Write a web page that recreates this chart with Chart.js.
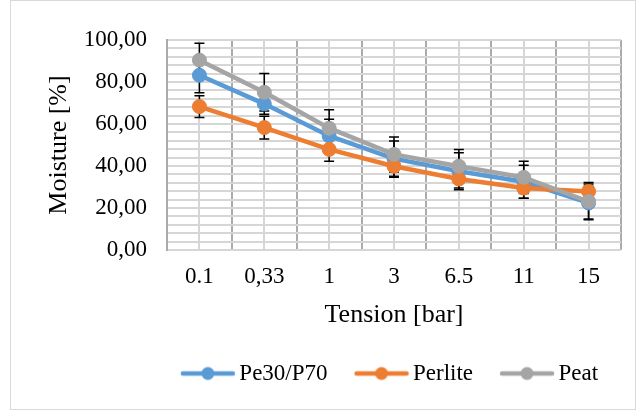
<!DOCTYPE html>
<html><head><meta charset="utf-8">
<script src="https://cdn.jsdelivr.net/npm/chart.js@4/dist/chart.umd.min.js"></script>
<style>html,body{margin:0;padding:0;background:#fff;} #wrap{width:641px;height:413px;position:relative;}</style>
</head><body><div id="wrap"><canvas id="c" width="641" height="413"></canvas></div>
<script>
const categories = ['0.1', '0,33', '1', '3', '6.5', '11', '15'];
const seriesNames = ['Pe30/P70', 'Perlite', 'Peat'];
const pe30Values = [83.2, 69.6, 54.3, 43.5, 37.5, 32.5, 22.4];
const pe30Errors = [8.3, 5.0, 8.0, 8.4, 8.8, 7.9, 8.0];
const perliteValues = [68.3, 58.3, 47.9, 39.9, 33.8, 29.5, 27.9];
const perliteErrors = [5.2, 5.4, 5.6, 5.3, 4.3, 4.8, 4.3];
const peatValues = [90.4, 75.1, 58.0, 45.5, 39.9, 34.6, 23.1];
const peatErrors = [8.0, 8.9, 8.8, 8.3, 8.0, 7.7, 8.3];
const yTickLabels = ['0,00', '20,00', '40,00', '60,00', '80,00', '100,00'];
const seriesColors = ['#5B9BD5', '#ED7D31', '#A5A5A5'];
const errorSets = [pe30Errors, perliteErrors, peatErrors];

const FONT = "'Liberation Serif', 'Times New Roman', serif";
Chart.defaults.font.family = FONT;
Chart.defaults.color = '#000';

function makeIcon(color) {
  const c = document.createElement('canvas');
  c.width = 56; c.height = 16;
  const g = c.getContext('2d');
  g.strokeStyle = color; g.lineWidth = 4.5; g.lineCap = 'round';
  g.beginPath(); g.moveTo(3, 8); g.lineTo(53, 8); g.stroke();
  g.fillStyle = color;
  g.beginPath(); g.arc(28, 8, 6.5, 0, Math.PI * 2); g.fill();
  return c;
}
const icons = seriesColors.map(makeIcon);

const borderPlugin = {
  id: 'outerBorder',
  beforeDraw(chart) {
    const ctx = chart.ctx;
    ctx.save();
    ctx.fillStyle = '#fff';
    ctx.fillRect(0, 0, chart.width, chart.height);
    ctx.strokeStyle = '#d9d9d9';
    ctx.lineWidth = 1;
    ctx.strokeRect(10.5, 0.5, 625, 409);
    ctx.restore();
  }
};

const errorBarPlugin = {
  id: 'errorBars',
  beforeDatasetsDraw(chart) {
    const ctx = chart.ctx;
    const x = chart.scales.x, y = chart.scales.y;
    ctx.save();
    ctx.strokeStyle = '#000';
    ctx.lineWidth = 1.5;
    chart.data.datasets.forEach((ds, i) => {
      const errs = errorSets[i];
      ds.data.forEach((v, j) => {
        const px = x.getPixelForValue(j);
        const yt = y.getPixelForValue(v + errs[j]);
        const yb = y.getPixelForValue(v - errs[j]);
        ctx.beginPath();
        ctx.moveTo(px, yt); ctx.lineTo(px, yb);
        ctx.moveTo(px - 5, yt); ctx.lineTo(px + 5, yt);
        ctx.moveTo(px - 5, yb); ctx.lineTo(px + 5, yb);
        ctx.stroke();
      });
    });
    ctx.restore();
  }
};

const legendShiftPlugin = {
  id: 'legendShift',
  afterLayout(chart) {
    const lg = chart.legend;
    if (!lg) return;
    const want = (chart.chartArea.left + chart.chartArea.right) / 2 - 1;
    const dx = want - (lg.left + lg.right) / 2;
    lg.left += dx; lg.right += dx;
    lg.top -= 3; lg.bottom -= 3;
  }
};

function ds(i, values, order) {
  return {
    label: seriesNames[i],
    data: values,
    borderColor: seriesColors[i],
    backgroundColor: seriesColors[i],
    borderWidth: 4.5,
    pointRadius: 7,
    pointBorderWidth: 1,
    pointBackgroundColor: seriesColors[i],
    pointBorderColor: seriesColors[i],
    tension: 0,
    order: order
  };
}

new Chart(document.getElementById('c'), {
  type: 'line',
  data: {
    labels: categories,
    datasets: [ds(0, pe30Values, 3), ds(1, perliteValues, 2), ds(2, peatValues, 1)]
  },
  plugins: [borderPlugin, errorBarPlugin, legendShiftPlugin],
  options: {
    responsive: false,
    animation: false,
    events: [],
    layout: { padding: { left: 12, right: 20, top: 40, bottom: 15 } },
    plugins: {
      tooltip: { enabled: false },
      legend: {
        position: 'bottom',
        align: 'center',
        labels: {
          usePointStyle: true,
          pointStyleWidth: 40,
          boxHeight: 16,
          padding: 34,
          color: '#000',
          font: { family: FONT, size: 23 },
          generateLabels(chart) {
            return chart.data.datasets.map((d, i) => ({
              text: d.label,
              pointStyle: icons[i],
              fillStyle: d.borderColor,
              strokeStyle: d.borderColor,
              lineWidth: 0,
              hidden: false,
              datasetIndex: i,
              fontColor: '#000'
            }));
          }
        }
      }
    },
    scales: {
      x: {
        type: 'category',
        offset: true,
        grid: { offset: true, color: '#ababab', lineWidth: 2, drawTicks: false },
        border: { display: false },
        ticks: { color: '#000', font: { family: FONT, size: 23 }, padding: 13, autoSkip: false, maxRotation: 0 },
        title: { display: true, text: 'Tension [bar]', color: '#000', font: { family: FONT, size: 26 }, padding: { top: 6, bottom: 0 } },
        afterFit(scale) { scale.height = 81; }
      },
      x2: {
        type: 'category',
        position: 'top',
        offset: true,
        grid: { offset: false, color: '#d6d6d6', lineWidth: 2, drawTicks: false },
        border: { display: false },
        ticks: { display: false }
      },
      y: {
        min: 0,
        max: 100,
        grid: { color: '#d6d6d6', lineWidth: 2, drawTicks: false },
        border: { display: true, color: '#ababab', width: 2 },
        ticks: {
          stepSize: 4,
          autoSkip: false,
          padding: 20,
          color: '#000',
          font: { family: FONT, size: 23 },
          callback: (v) => { const r = Math.round(v); return r % 20 === 0 ? yTickLabels[r / 20] : ''; }
        },
        title: { display: true, text: 'Moisture [%]', color: '#000', font: { family: FONT, size: 26 }, padding: { top: 32, bottom: 0 } },
        afterFit(scale) { scale.width = 155; }
      }
    }
  }
});
</script></body></html>
